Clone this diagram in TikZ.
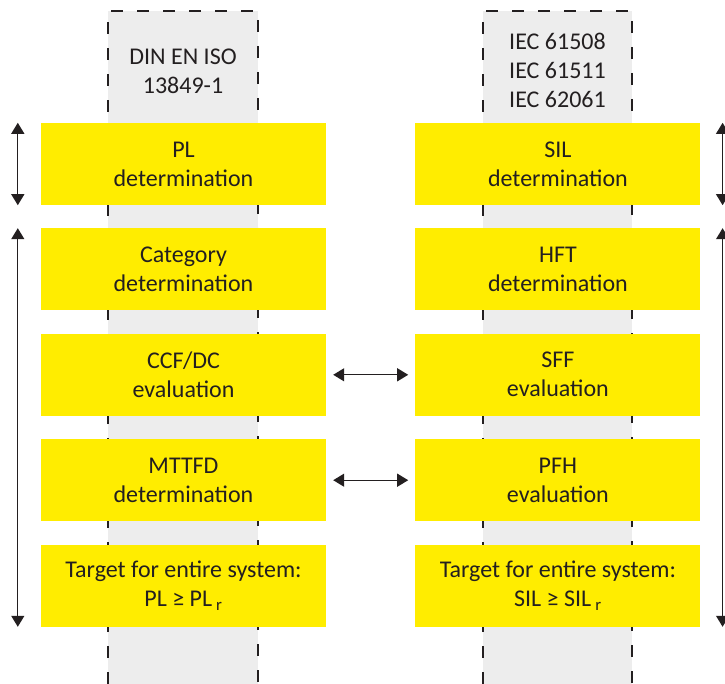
\documentclass[tikz,border=0pt]{standalone}
\usepackage{fontspec}
\setmainfont{Carlito}
\usetikzlibrary{positioning,arrows.meta,calc}
\definecolor{boxyellow}{HTML}{FFED00}
\definecolor{colgray}{HTML}{EDEDED}
\definecolor{ink}{HTML}{231F20}

\begin{document}
\begin{tikzpicture}[x=1pt,y=-1pt,node distance=23pt and 89pt,
    stepbox/.style={fill=boxyellow,text=ink,minimum width=285pt,minimum height=82pt,
      inner sep=0pt,align=center,font=\fontsize{24}{29}\selectfont},
    header/.style={text=ink,align=center,font=\fontsize{24}{29}\selectfont},
    link/.style={{Triangle[length=11pt,width=13pt]}-{Triangle[length=11pt,width=13pt]},
      line width=1.3pt,draw=ink},
    column/.style={draw=ink,line width=1.4pt,dash pattern=on 12pt off 14pt}]
  \useasboundingbox (0,0) rectangle (725,684);

  % standard columns
  \fill[colgray] (108,11) rectangle (258,684);
  \draw[column] (108,684) -- (108,11) -- (258,11) -- (258,684);
  \fill[colgray] (483,11) rectangle (632,684);
  \draw[column] (483,684) -- (483,11) -- (632,11) -- (632,684);

  \node[header] (din) at (183,71) {DIN EN ISO\\13849-1};
  \node[header] (iec) at (557.5,70) {IEC 61508\\IEC 61511\\IEC 62061};

  % left steps
  \node[stepbox] (pl) at (183.5,164) {PL\\determination};
  \node[stepbox,below=of pl] (cat) {Category\\determination};
  \node[stepbox,below=of cat] (ccf) {CCF/DC\\evaluation};
  \node[stepbox,below=of ccf] (mttfd) {MTTFD\\determination};
  \node[stepbox,below=of mttfd] (pltarget) {Target for entire system:\\PL ≥ PL\,\textsubscript{r}};

  % right steps
  \node[stepbox,right=of pl] (sil) {SIL\\determination};
  \node[stepbox,below=of sil] (hft) {HFT\\determination};
  \node[stepbox,below=of hft] (sff) {SFF\\evaluation};
  \node[stepbox,below=of sff] (pfh) {PFH\\evaluation};
  \node[stepbox,below=of pfh] (siltarget) {Target for entire system:\\SIL ≥ SIL\,\textsubscript{r}};

  \draw[link,shorten >=7pt,shorten <=7pt] (ccf) -- (sff);
  \draw[link,shorten >=7pt,shorten <=7pt] (mttfd) -- (pfh);

  \draw[link] ($(pl.north west)+(-23,0)$) -- ($(pl.south west)+(-23,0)$);
  \draw[link] ($(cat.north west)+(-23,0)$) -- ($(pltarget.south west)+(-23,0)$);
  \draw[link] ($(sil.north east)+(22,0)$) -- ($(sil.south east)+(22,0)$);
  \draw[link] ($(hft.north east)+(22,0)$) -- ($(siltarget.south east)+(22,0)$);
\end{tikzpicture}
\end{document}
